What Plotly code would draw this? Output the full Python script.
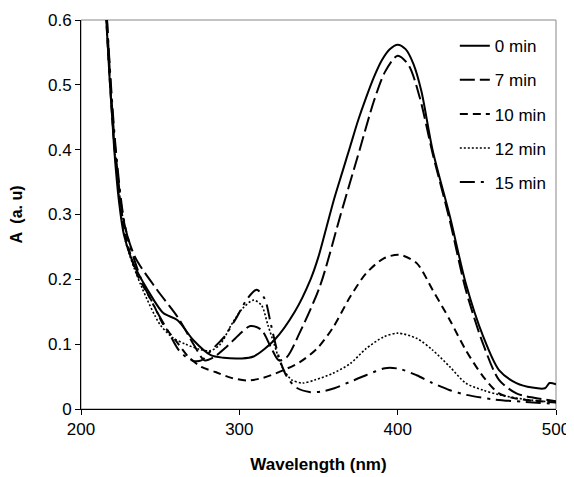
import plotly.graph_objects as go

# Wavelength (nm) and absorbance values
wl_0 = [212, 216, 221, 224, 227, 233, 242, 252, 261, 271, 282, 290, 301, 309, 322, 335, 345, 350, 355, 360, 365, 370, 375, 380, 385, 390, 395, 400, 405, 410, 415, 422, 433, 443, 454, 464, 475, 485, 493, 496, 500]
a_0 = [0.85, 0.60, 0.40, 0.32, 0.27, 0.225, 0.184, 0.148, 0.137, 0.106, 0.083, 0.079, 0.078, 0.081, 0.106, 0.15, 0.2, 0.235, 0.28, 0.325, 0.365, 0.405, 0.445, 0.48, 0.512, 0.538, 0.555, 0.562, 0.555, 0.532, 0.49, 0.40, 0.297, 0.194, 0.112, 0.06, 0.04, 0.033, 0.032, 0.04, 0.038]

wl_7 = [212, 216, 221, 227, 234, 248, 261, 272, 278, 284, 292, 300, 307, 314, 320, 325, 330, 338, 351, 364, 376, 385, 392, 400, 407, 414, 422, 433, 443, 454, 464, 475, 487, 500]
a_7 = [0.88, 0.62, 0.42, 0.29, 0.235, 0.184, 0.142, 0.096, 0.075, 0.08, 0.096, 0.115, 0.128, 0.122, 0.095, 0.075, 0.08, 0.117, 0.19, 0.30, 0.40, 0.475, 0.52, 0.545, 0.53, 0.48, 0.395, 0.29, 0.184, 0.10, 0.045, 0.024, 0.017, 0.012]

wl_10 = [212, 216, 222, 228, 235, 245, 252, 260, 268, 276, 285, 295, 305, 315, 326, 338, 349, 359, 370, 380, 391, 401, 412, 422, 433, 443, 454, 464, 475, 490, 500]
a_10 = [0.85, 0.60, 0.38, 0.27, 0.21, 0.165, 0.13, 0.105, 0.08, 0.065, 0.057, 0.048, 0.044, 0.048, 0.058, 0.072, 0.093, 0.125, 0.173, 0.209, 0.232, 0.238, 0.225, 0.184, 0.137, 0.091, 0.05, 0.024, 0.016, 0.012, 0.01]

wl_12 = [212, 216, 222, 228, 238, 250, 258, 266, 275, 282, 288, 295, 302, 309, 314, 318, 322, 327, 333, 340, 348, 359, 370, 380, 391, 400, 412, 422, 433, 443, 454, 464, 480, 500]
a_12 = [0.85, 0.60, 0.38, 0.26, 0.19, 0.13, 0.11, 0.10, 0.092, 0.09, 0.10, 0.13, 0.155, 0.168, 0.16, 0.13, 0.10, 0.065, 0.045, 0.04, 0.045, 0.055, 0.07, 0.093, 0.111, 0.117, 0.109, 0.091, 0.065, 0.04, 0.029, 0.022, 0.015, 0.01]

wl_15 = [212, 216, 222, 228, 238, 248, 255, 262, 270, 276, 282, 290, 298, 305, 311, 316, 320, 325, 330, 336, 345, 352, 360, 370, 380, 392, 401, 412, 422, 433, 443, 460, 480, 500]
a_15 = [0.88, 0.62, 0.40, 0.28, 0.20, 0.15, 0.12, 0.09, 0.075, 0.075, 0.09, 0.11, 0.14, 0.17, 0.184, 0.17, 0.13, 0.08, 0.05, 0.033, 0.026, 0.027, 0.032, 0.042, 0.052, 0.063, 0.062, 0.052, 0.04, 0.029, 0.022, 0.015, 0.011, 0.008]

series_names = ["0 min", "7 min", "10 min", "12 min", "15 min"]
x_data = [wl_0, wl_7, wl_10, wl_12, wl_15]
y_data = [a_0, a_7, a_10, a_12, a_15]
dashes = ["solid", "15px,5px", "8px,5px", "2px,2px", "15px,6px,3px,6px"]
widths = [2, 2, 2, 1.6, 2]

fig = go.Figure()
for i, name in enumerate(series_names):
    fig.add_trace(go.Scatter(
        x=x_data[i], y=y_data[i], mode="lines", name=name,
        legendgroup=name,
        line=dict(color="black", width=widths[i], dash=dashes[i], shape="spline", smoothing=0.8),
    ))

font_family = "Liberation Sans, Arial, sans-serif"
fig.update_layout(
    width=574, height=477,
    margin=dict(l=73, r=26, t=12, b=76),
    paper_bgcolor="white", plot_bgcolor="white",
    font=dict(family=font_family, size=17, color="black"),
    showlegend=True,
    legend=dict(
        x=0.787, y=0.979, xanchor="left", yanchor="top",
        bgcolor="rgba(0,0,0,0)", borderwidth=0,
        font=dict(size=17, color="black"),
        tracegroupgap=9,
        traceorder="grouped",
    ),
    shapes=[dict(type="rect", xref="paper", yref="paper", x0=0, y0=0, x1=1, y1=1,
                 line=dict(color="#888888", width=1), fillcolor="rgba(0,0,0,0)", layer="below")],
)
fig.update_xaxes(
    range=[200, 500], tickvals=[200, 300, 400, 500],
    showline=True, linecolor="black", linewidth=1, mirror=False,
    ticks="outside", ticklen=5, tickcolor="black",
    showgrid=False, zeroline=False, automargin=False,
    tickfont=dict(size=17, color="black"),
    title=dict(text="<b>Wavelength (nm)</b>", font=dict(size=17, color="black"), standoff=19),
)
fig.update_yaxes(
    range=[0, 0.6], tickvals=[0, 0.1, 0.2, 0.3, 0.4, 0.5, 0.6],
    ticktext=["0", "0.1", "0.2", "0.3", "0.4", "0.5", "0.6"],
    showline=True, linecolor="black", linewidth=1, mirror=False,
    ticks="outside", ticklen=5, tickcolor="black",
    showgrid=False, zeroline=False, automargin=False,
    tickfont=dict(size=17, color="black"),
    title=dict(text="<b>A  (a. u)</b>", font=dict(size=16, color="black"), standoff=21),
)

fig.write_html("out.html")
